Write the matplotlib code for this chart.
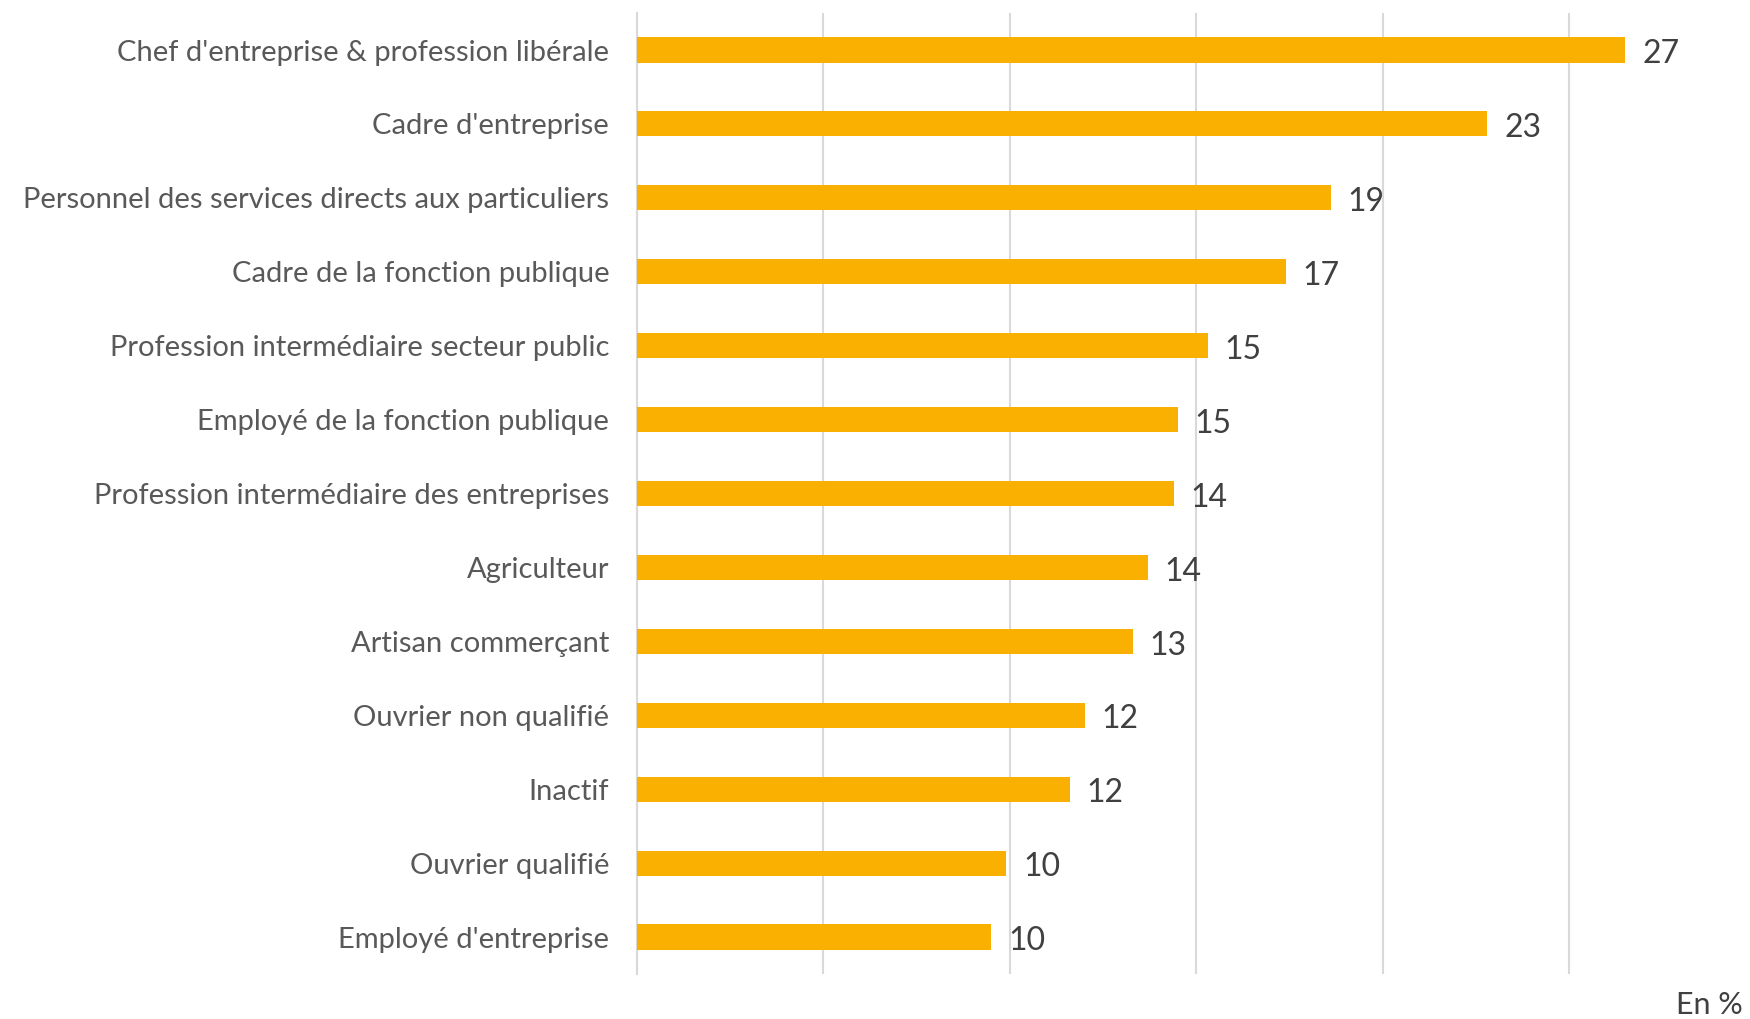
import matplotlib
matplotlib.use("Agg")
import matplotlib.pyplot as plt

categories = [
    "Chef d'entreprise & profession libérale",
    "Cadre d'entreprise",
    "Personnel des services directs aux particuliers",
    "Cadre de la fonction publique",
    "Profession intermédiaire secteur public",
    "Employé de la fonction publique",
    "Profession intermédiaire des entreprises",
    "Agriculteur",
    "Artisan commerçant",
    "Ouvrier non qualifié",
    "Inactif",
    "Ouvrier qualifié",
    "Employé d'entreprise",
]
values = [26.5, 22.8, 18.6, 17.4, 15.3, 14.5, 14.4, 13.7, 13.3, 12.0, 11.6, 9.9, 9.5]
labels = ["27", "23", "19", "17", "15", "15", "14", "14", "13", "12", "12", "10", "10"]
xticks = [0, 5, 10, 15, 20, 25]

plt.rcParams['font.family'] = ['Lato', 'DejaVu Sans']

fig = plt.figure(figsize=(17.5, 10.19), dpi=100)
ax = fig.add_axes([0.364, 0.0442, 0.636, 0.943])

n = len(categories)
ypos = list(range(n))
ax.barh(ypos, values, height=0.34, color="#FAB000", zorder=3)
ax.set_ylim(n - 0.5, -0.5)
ax.set_xlim(0, 29.84)
ax.set_yticks(ypos)
ax.set_yticklabels(categories, fontsize=21, color="#595959")
ax.set_xticks(xticks)
ax.set_xticklabels([])
ax.tick_params(axis='x', length=0)
ax.tick_params(axis='y', length=0, pad=20)
ax.grid(axis='x', color="#D9D9D9", linewidth=1.5, zorder=0)
for s in ["top", "right", "bottom"]:
    ax.spines[s].set_visible(False)
ax.spines["left"].set_color("#D9D9D9")
ax.spines["left"].set_linewidth(1.5)

for y, v, lab in zip(ypos, values, labels):
    ax.annotate(lab, xy=(v, y), xytext=(12, -3), textcoords="offset points",
                ha="left", va="center", fontsize=23, color="#404040")

fig.text(0.996, 0.0, "En %", ha="right", va="bottom", fontsize=22, color="#404040")

fig.savefig("out.png", dpi=100, facecolor="white")
